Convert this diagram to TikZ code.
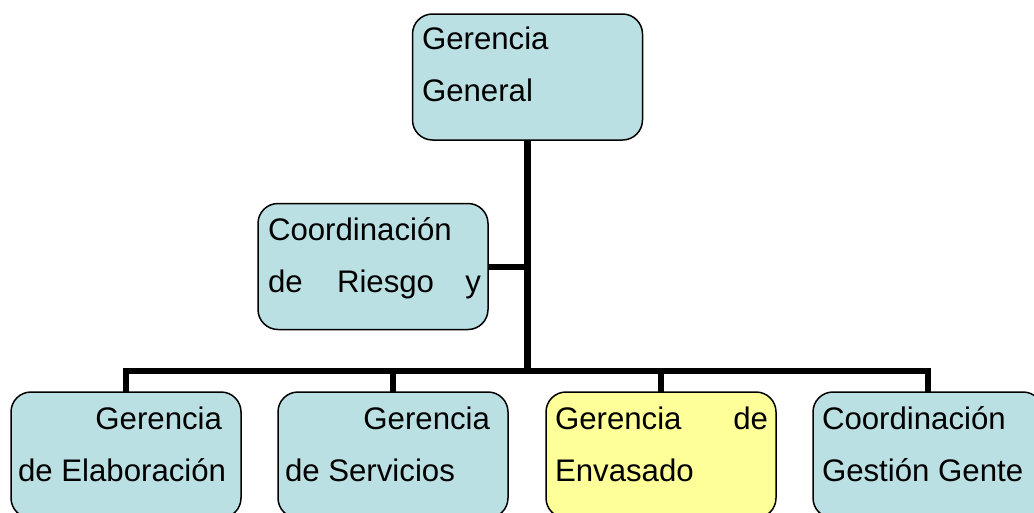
\documentclass[tikz,border=0pt]{standalone}
\usepackage{fontspec}
\setmainfont{Liberation Sans}
\definecolor{boxblue}{HTML}{BBE0E3}
\definecolor{boxyellow}{HTML}{FFFF99}
\begin{document}
\begin{tikzpicture}[x=1pt,y=-1pt,
  orgbox/.style={draw=black, line width=1.5pt, rounded corners=20pt, fill=boxblue,
    minimum width=230pt, minimum height=126pt, inner sep=0pt, outer sep=0pt},
  yellowbox/.style={orgbox, fill=boxyellow},
  conn/.style={draw=black, line width=6.5pt, line join=miter},
  lbl/.style={anchor=base west, inner sep=0pt, outer sep=0pt, font=\fontsize{31.2}{36}\selectfont},
  lblr/.style={lbl, anchor=base east}]
\useasboundingbox (0,0) rectangle (1034,512);
\clip (0,0) rectangle (1034,512);
\fill[white] (0,0) rectangle (1034,512);
\coordinate (hub) at (527.5,371);
\coordinate (side) at (527.5,267);
% boxes
\node[orgbox] (gg) at (527.5,77) {};
\node[orgbox] (cr) at (373,266.5) {};
\node[orgbox] (ge) at (126,455) {};
\node[orgbox] (gs) at (393,455) {};
\node[yellowbox] (gv) at (661,455) {};
\node[orgbox] (cg) at (928,455) {};
% connectors
\draw[conn] (gg.south) -- (hub);
\draw[conn] (cr.east |- side) -- (side);
\draw[conn] (ge.north) -- (ge.north |- hub) -- (cg.north |- hub) -- (cg.north);
\draw[conn] (gs.north) -- (gs.north |- hub);
\draw[conn] (gv.north) -- (gv.north |- hub);
% texts
\node[lbl] (t1) at (422,49) {Gerencia};
\node[lbl] (t2) at (422,101.5) {General};
\node[lbl] (t3) at (268,240) {Coordinación};
\node[lbl] (t4) at (268,292) {de};
\node[lbl] (t5) at (337,292) {Riesgo};
\node[lblr] (t6) at (481,292) {y};
\node[lblr] (t7) at (222,429) {Gerencia};
\node[lbl] (t8) at (18,481.5) {de Elaboración};
\node[lblr] (t9) at (490,429) {Gerencia};
\node[lbl] (t10) at (285,481.5) {de Servicios};
\node[lbl] (t11) at (555,429) {Gerencia};
\node[lblr] (t12) at (768,429) {de};
\node[lbl] (t13) at (555,481.5) {Envasado};
\node[lbl] (t14) at (822,429) {Coordinación};
\node[lbl] (t15) at (822,481.5) {Gestión Gente};
\end{tikzpicture}
\end{document}
